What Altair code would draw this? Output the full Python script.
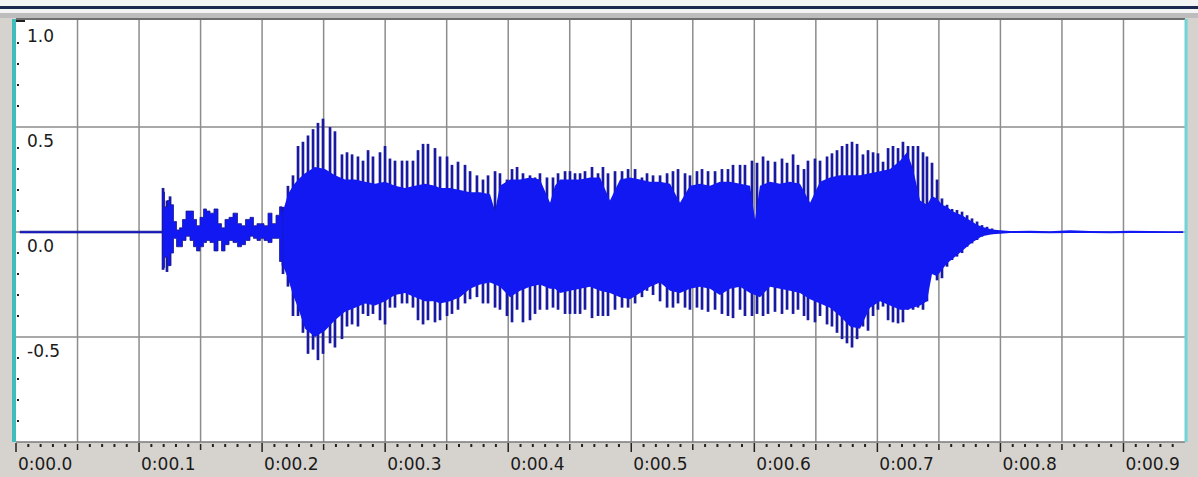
import altair as alt
import pandas as pd

# ---------------- data ----------------
# unvoiced onset / noise part of the waveform (time in ms, upper / lower edge)
noise_ms = [3.3, 118.7, 119.5, 121.9, 124.3, 126.8, 129.2, 131.7, 134.1, 136.5, 139.8, 143.0,
            145.5, 147.9, 151.2, 153.6, 156.0, 159.3, 162.5, 165.8, 168.2, 171.5, 174.7, 178.0,
            182.0, 184.5, 188.5, 191.8, 194.2, 197.5, 199.9, 203.2, 206.4, 209.7, 212.9, 215.4, 217.0]
noise_hi = [0.004, 0.004, 0.19, 0.12, 0.15, 0.13, 0.05, 0.01, 0.02, 0.06, 0.10, 0.10,
            0.06, 0.03, 0.07, 0.11, 0.10, 0.09, 0.11, 0.04, 0.02, 0.06, 0.07, 0.09,
            0.04, 0.03, 0.06, 0.07, 0.03, 0.04, 0.04, 0.03, 0.09, 0.04, 0.08, 0.12, 0.10]
noise_lo = [-0.004, -0.004, -0.17, -0.12, -0.16, -0.10, -0.03, -0.07, -0.07, -0.04, -0.02, -0.04,
            -0.07, -0.09, -0.07, -0.05, -0.04, -0.05, -0.09, -0.04, -0.09, -0.06, -0.04, -0.05,
            -0.07, -0.06, -0.04, -0.02, -0.03, -0.04, -0.03, -0.04, -0.05, -0.03, -0.03, -0.14, -0.16]

# dense core of the voiced part (time in ms, upper / lower edge)
core_ms = [217.0, 221.0, 225.1, 229.2, 234.9, 243.0, 251.1, 259.2, 267.4, 275.5, 283.6, 291.8,
           299.9, 308.0, 316.1, 324.3, 332.4, 340.5, 344.6, 352.7, 360.8, 369.0, 377.1, 385.2,
           389.3, 393.3, 401.5, 409.6, 417.7, 425.8, 434.0, 438.0, 442.1, 450.2, 458.4, 466.5,
           474.6, 482.7, 490.9, 499.0, 507.1, 515.2, 523.4, 531.5, 539.6, 547.7, 555.9, 564.0,
           572.1, 580.3, 588.4, 596.5, 600.6, 604.6, 612.8, 620.9, 629.0, 637.1, 645.3, 653.4,
           661.5, 669.6, 677.8, 685.9, 694.0, 702.2, 710.3, 718.4, 724.1, 729.0, 734.7, 740.3,
           744.4, 748.5, 752.5, 756.6, 760.7, 764.7, 768.8, 772.9, 776.9, 781.0, 785.0, 789.1,
           793.2, 799.7, 807.8, 824.1, 840.3, 856.6, 872.8, 889.1, 905.3, 921.6, 937.8, 948.4]
core_hi = [0.10, 0.18, 0.22, 0.25, 0.28, 0.31, 0.30, 0.27, 0.25, 0.25, 0.24, 0.23,
           0.24, 0.22, 0.21, 0.22, 0.23, 0.22, 0.21, 0.21, 0.20, 0.19, 0.19, 0.18,
           0.10, 0.22, 0.25, 0.25, 0.26, 0.25, 0.14, 0.22, 0.25, 0.25, 0.25, 0.26,
           0.26, 0.15, 0.25, 0.26, 0.25, 0.24, 0.24, 0.23, 0.14, 0.22, 0.23, 0.22,
           0.24, 0.24, 0.23, 0.22, 0.06, 0.22, 0.24, 0.23, 0.24, 0.23, 0.14, 0.24,
           0.26, 0.27, 0.27, 0.27, 0.28, 0.29, 0.30, 0.34, 0.38, 0.30, 0.15, 0.13,
           0.17, 0.16, 0.13, 0.12, 0.10, 0.09, 0.08, 0.065, 0.05, 0.035, 0.025, 0.018,
           0.012, 0.008, 0.005, 0.006, 0.004, 0.008, 0.005, 0.004, 0.006, 0.005, 0.004, 0.004]
core_lo = [-0.16, -0.22, -0.30, -0.36, -0.46, -0.50, -0.47, -0.42, -0.38, -0.36, -0.34, -0.35,
           -0.33, -0.30, -0.29, -0.31, -0.33, -0.33, -0.34, -0.33, -0.31, -0.27, -0.25, -0.24,
           -0.25, -0.26, -0.31, -0.28, -0.26, -0.25, -0.27, -0.27, -0.29, -0.28, -0.27, -0.26,
           -0.28, -0.29, -0.31, -0.32, -0.29, -0.26, -0.24, -0.28, -0.29, -0.27, -0.26, -0.27,
           -0.30, -0.27, -0.26, -0.29, -0.30, -0.31, -0.26, -0.27, -0.28, -0.29, -0.32, -0.34,
           -0.36, -0.40, -0.45, -0.46, -0.36, -0.33, -0.35, -0.37, -0.37, -0.36, -0.35, -0.33,
           -0.20, -0.21, -0.18, -0.15, -0.13, -0.11, -0.09, -0.07, -0.05, -0.035, -0.02, -0.015,
           -0.01, -0.008, -0.005, -0.004, -0.006, -0.005, -0.005, -0.006, -0.004, -0.005, -0.005, -0.004]

# pitch pulses (time in ms, peak above / below)
spike_ms = [119.5, 122.7, 125.2,
            217.0, 221.0, 225.1, 229.2, 233.2, 237.3, 241.4, 245.4, 249.5, 255.2, 259.2, 264.9,
            269.0, 273.1, 277.9, 282.0, 286.1, 290.1, 295.8, 299.9, 303.9, 308.0, 313.7, 317.8,
            322.6, 326.7, 330.8, 334.8, 340.5, 344.6, 350.3, 354.3, 359.2, 364.9, 369.0, 374.6,
            379.5, 383.6, 389.3, 393.3, 399.0, 403.1, 407.2, 412.0, 417.7, 421.8, 425.8, 431.5,
            436.4, 440.5, 446.2, 450.2, 454.3, 458.4, 462.4, 468.1, 473.0, 477.0, 481.1, 486.8,
            492.5, 497.4, 503.1, 508.7, 512.8, 517.7, 523.4, 529.1, 533.9, 538.0, 543.7, 547.7,
            553.4, 557.5, 562.4, 568.1, 573.7, 578.6, 582.7, 588.4, 592.4, 598.1, 602.2, 607.1,
            611.1, 616.8, 622.5, 626.6, 631.5, 635.5, 640.4, 643.6, 649.3, 653.4, 659.1, 663.1,
            667.2, 671.3, 675.3, 679.4, 683.5, 688.3, 692.4, 696.5, 700.5, 704.6, 708.7, 712.7,
            716.8, 720.8, 724.9, 729.0, 733.0, 737.1, 740.3, 744.4, 748.5, 752.5, 756.6, 760.7,
            764.7, 768.8, 772.9, 776.9, 781.0, 785.0, 789.1, 793.2]
spike_hi = [0.21, 0.15, 0.17,
            0.12, 0.22, 0.27, 0.41, 0.43, 0.46, 0.49, 0.52, 0.54, 0.50, 0.48, 0.37,
            0.38, 0.37, 0.36, 0.34, 0.39, 0.36, 0.38, 0.41, 0.35, 0.34, 0.34, 0.34,
            0.34, 0.39, 0.42, 0.42, 0.40, 0.36, 0.36, 0.32, 0.335, 0.32, 0.29, 0.27,
            0.25, 0.27, 0.29, 0.28, 0.25, 0.30, 0.31, 0.28, 0.27, 0.26, 0.28, 0.26,
            0.26, 0.28, 0.29, 0.29, 0.28, 0.28, 0.29, 0.31, 0.28, 0.31, 0.28, 0.29,
            0.29, 0.30, 0.30, 0.26, 0.28, 0.27, 0.27, 0.28, 0.29, 0.30, 0.28, 0.27,
            0.29, 0.30, 0.29, 0.29, 0.30, 0.30, 0.32, 0.32, 0.32, 0.34, 0.33, 0.36,
            0.34, 0.335, 0.35, 0.33, 0.37, 0.32, 0.30, 0.34, 0.35, 0.34, 0.36, 0.375,
            0.39, 0.41, 0.42, 0.43, 0.42, 0.37, 0.39, 0.38, 0.375, 0.335, 0.40, 0.41,
            0.40, 0.43, 0.41, 0.41, 0.41, 0.38, 0.36, 0.33, 0.25, 0.16, 0.13, 0.11,
            0.105, 0.097, 0.08, 0.065, 0.05, 0.033, 0.025, 0.017]
spike_lo = [-0.18, -0.19, -0.16,
            -0.20, -0.26, -0.40, -0.40, -0.48, -0.58, -0.56, -0.61, -0.58, -0.53, -0.55, -0.51,
            -0.45, -0.44, -0.45, -0.39, -0.40, -0.39, -0.42, -0.44, -0.36, -0.36, -0.34, -0.34,
            -0.36, -0.42, -0.44, -0.42, -0.43, -0.42, -0.40, -0.39, -0.37, -0.34, -0.32, -0.31,
            -0.34, -0.34, -0.36, -0.37, -0.40, -0.43, -0.37, -0.43, -0.42, -0.39, -0.37, -0.37,
            -0.36, -0.37, -0.39, -0.39, -0.39, -0.39, -0.37, -0.41, -0.40, -0.40, -0.40, -0.37,
            -0.36, -0.36, -0.34, -0.31, -0.28, -0.30, -0.33, -0.36, -0.36, -0.34, -0.36, -0.37,
            -0.36, -0.37, -0.38, -0.37, -0.39, -0.40, -0.41, -0.37, -0.40, -0.40, -0.39, -0.40,
            -0.39, -0.38, -0.39, -0.37, -0.39, -0.37, -0.40, -0.42, -0.43, -0.40, -0.44, -0.45,
            -0.48, -0.51, -0.53, -0.55, -0.51, -0.45, -0.47, -0.40, -0.37, -0.355, -0.42, -0.43,
            -0.435, -0.43, -0.37, -0.37, -0.36, -0.37, -0.33, -0.20, -0.23, -0.22, -0.165, -0.133,
            -0.117, -0.10, -0.07, -0.054, -0.038, -0.022, -0.014, -0.01]

grid_ms = [50, 100, 150, 200, 250, 300, 350, 400, 450, 500, 550, 600, 650, 700, 750, 800, 850, 900]
hgrid_vals = [0.5, 0.0, -0.5]
xlab_ms = [0, 100, 200, 300, 400, 500, 600, 700, 800, 900]
xlab_txt = ["0:00.0", "0:00.1", "0:00.2", "0:00.3", "0:00.4", "0:00.5", "0:00.6", "0:00.7", "0:00.8", "0:00.9"]
ylab_vals = [1.0, 0.5, 0.0, -0.5]
ylab_txt = ["1.0", "0.5", "0.0", "-0.5"]
mid_ms = [50, 150, 250, 350, 450, 550, 650, 750, 850]
minor_ms = [m for m in range(10, 950, 10) if m % 50 != 0]
ydot_vals = [0.9, 0.8, 0.7, 0.6, 0.4, 0.3, 0.2, 0.1, -0.1, -0.2, -0.3, -0.4, -0.6, -0.7, -0.8, -0.9]

# ---------------- chart ----------------
W, H = 1169, 422
FONT = "DejaVu Sans"
BLUE = "#1218f2"
xs = alt.Scale(domain=[0, 950], nice=False, zero=False)
ys = alt.Scale(domain=[-1, 1.01], nice=False, zero=False)

noise = pd.DataFrame({"t": noise_ms, "hi": noise_hi, "lo": noise_lo})
core = pd.DataFrame({"t": core_ms, "hi": core_hi, "lo": core_lo})
spikes = pd.DataFrame({"t": spike_ms, "hi": spike_hi, "lo": spike_lo})
one = pd.DataFrame({"a": [0]})

vgrid = alt.Chart(pd.DataFrame({"t": grid_ms})).mark_rule(color="#8c8c8c", strokeWidth=1.5).encode(
    x=alt.X("t:Q", scale=xs, axis=None), y=alt.value(0), y2=alt.value(H))
hgrid = alt.Chart(pd.DataFrame({"v": hgrid_vals})).mark_rule(color="#8c8c8c", strokeWidth=1.5).encode(
    y=alt.Y("v:Q", scale=ys, axis=None), x=alt.value(0), x2=alt.value(W))

spk = alt.Chart(spikes).mark_rule(color="#1a1aa0", strokeWidth=2.7).encode(
    x=alt.X("t:Q", scale=xs, axis=None), y=alt.Y("hi:Q", scale=ys, axis=None), y2="lo:Q")
noise_area = alt.Chart(noise).mark_area(color=BLUE, opacity=1, interpolate="step",
                                        stroke="#1a1a8c", strokeWidth=0.8).encode(
    x=alt.X("t:Q", scale=xs, axis=None), y=alt.Y("hi:Q", scale=ys, axis=None), y2="lo:Q")
wave = alt.Chart(core).mark_area(color=BLUE, opacity=1).encode(
    x=alt.X("t:Q", scale=xs, axis=None), y=alt.Y("hi:Q", scale=ys, axis=None), y2="lo:Q")

ylab = alt.Chart(pd.DataFrame({"v": ylab_vals, "s": ylab_txt})).mark_text(
    align="left", baseline="alphabetic", dy=20, font=FONT, fontSize=17, color="#1a1a1a").encode(
    y=alt.Y("v:Q", scale=ys, axis=None), x=alt.value(11), text="s:N")

xlab = alt.Chart(pd.DataFrame({"t": xlab_ms, "s": xlab_txt})).mark_text(
    align="left", baseline="alphabetic", dx=2, font=FONT, fontSize=17, color="#1a1a1a").encode(
    x=alt.X("t:Q", scale=xs, axis=None), y=alt.value(H + 28), text="s:N")

major = alt.Chart(pd.DataFrame({"t": xlab_ms})).mark_rule(color="#202020", strokeWidth=1.5).encode(
    x=alt.X("t:Q", scale=xs, axis=None), y=alt.value(H + 1), y2=alt.value(H + 10))
mid = alt.Chart(pd.DataFrame({"t": mid_ms})).mark_rule(color="#202020", strokeWidth=1.5).encode(
    x=alt.X("t:Q", scale=xs, axis=None), y=alt.value(H + 2), y2=alt.value(H + 8))
minor = alt.Chart(pd.DataFrame({"t": minor_ms})).mark_rule(color="#202020", strokeWidth=2).encode(
    x=alt.X("t:Q", scale=xs, axis=None), y=alt.value(H + 2), y2=alt.value(H + 5))
ydots = alt.Chart(pd.DataFrame({"v": ydot_vals})).mark_rule(color="#202020", strokeWidth=2).encode(
    y=alt.Y("v:Q", scale=ys, axis=None), x=alt.value(1), x2=alt.value(3))

# frame
bottom_line = alt.Chart(one).mark_rule(color="#7a7a7a", strokeWidth=1.5).encode(
    x=alt.value(0), x2=alt.value(W), y=alt.value(H))
top_line = alt.Chart(one).mark_rule(color="#6e6e6e", strokeWidth=2).encode(
    x=alt.value(0), x2=alt.value(W), y=alt.value(-1))
top_band = alt.Chart(one).mark_rule(color="#bdbdbd", strokeWidth=5).encode(
    x=alt.value(-16), x2=alt.value(W + 13), y=alt.value(-4.5))
top_light = alt.Chart(one).mark_rule(color="#f4f4f4", strokeWidth=4).encode(
    x=alt.value(-16), x2=alt.value(W + 13), y=alt.value(-9))
top_dark = alt.Chart(one).mark_rule(color="#1c2850", strokeWidth=3).encode(
    x=alt.value(-16), x2=alt.value(W + 13), y=alt.value(-12.5))
top_white = alt.Chart(one).mark_rule(color="#f4f4f4", strokeWidth=6).encode(
    x=alt.value(-16), x2=alt.value(W + 13), y=alt.value(-17))
left_cyan = alt.Chart(one).mark_rule(color="#3fbcbc", strokeWidth=4).encode(
    x=alt.value(-2), y=alt.value(-1), y2=alt.value(H))
right_cyan = alt.Chart(one).mark_rule(color="#6fd3d8", strokeWidth=3).encode(
    x=alt.value(W + 1), y=alt.value(-1), y2=alt.value(H))
corner_tick = alt.Chart(one).mark_rule(color="#202020", strokeWidth=2).encode(
    x=alt.value(0), x2=alt.value(9), y=alt.value(1))

chart = alt.layer(
    vgrid, hgrid, spk, noise_area, wave, ylab, xlab, major, mid, minor, ydots,
    bottom_line, top_white, top_dark, top_light, top_band, top_line, left_cyan, right_cyan, corner_tick
).properties(
    width=W, height=H, autosize="none",
    padding={"left": 16, "top": 20, "right": 13, "bottom": 35},
    background="#d6d3ce"
).configure_view(fill="white", stroke=None)

chart.save("out.html", embed_options={"renderer": "svg", "actions": False})
